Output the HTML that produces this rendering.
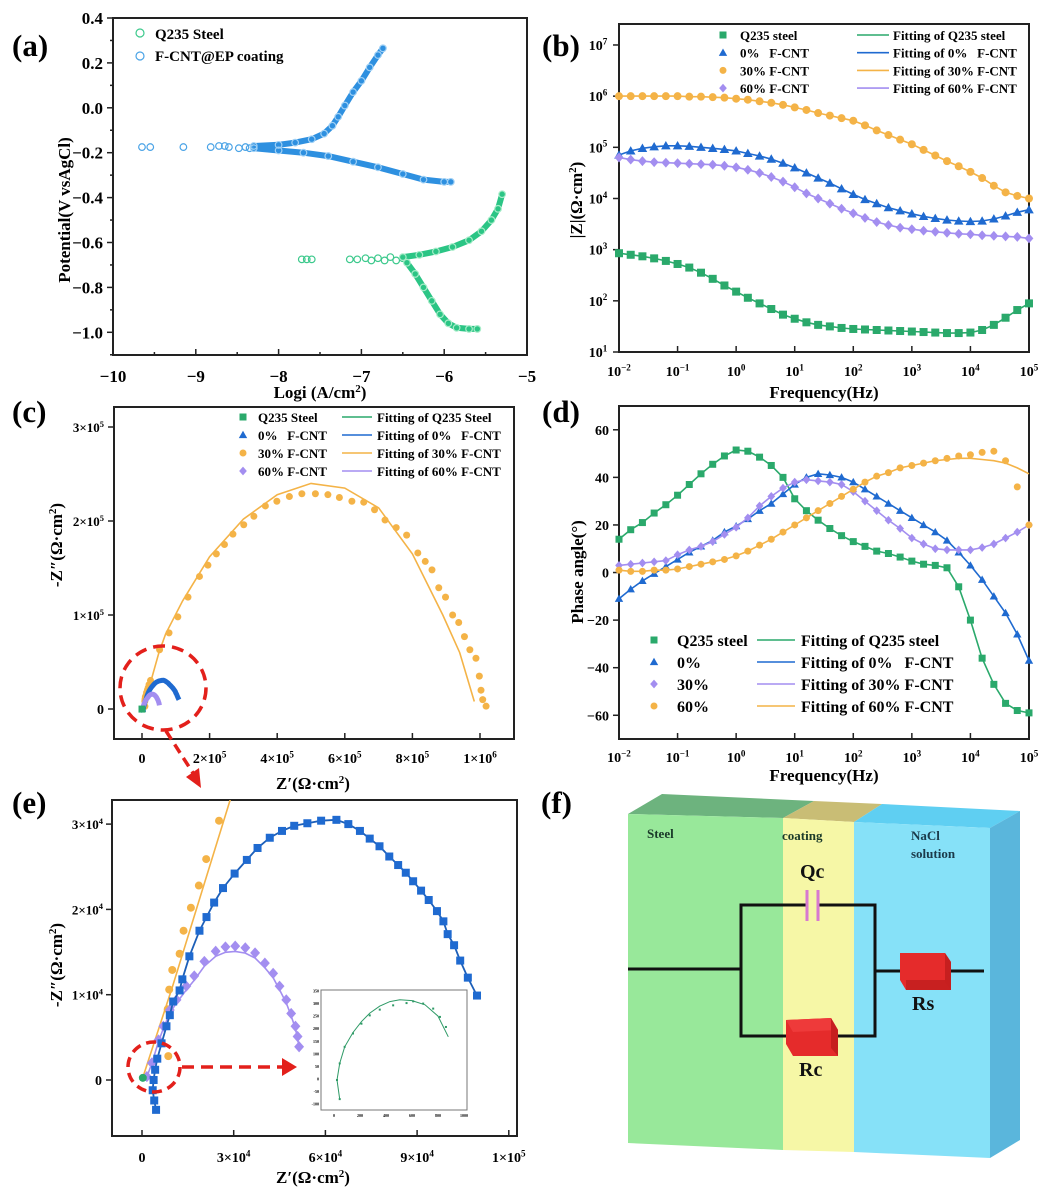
<!DOCTYPE html>
<html><head><meta charset="utf-8"><style>
html,body{margin:0;padding:0;background:#fff;}
svg{display:block;font-family:"Liberation Serif",serif;font-weight:bold;}
</style></head><body>
<svg id="fig" width="1054" height="1198" viewBox="0 0 1054 1198" xmlns="http://www.w3.org/2000/svg">
<defs>
<clipPath id="clipE"><rect x="112" y="800" width="405" height="336"/></clipPath>
<clipPath id="clipC"><rect x="114" y="407" width="400" height="332"/></clipPath>
</defs>
<text x="12" y="56" font-size="31">(a)</text>
<text x="542" y="56" font-size="31">(b)</text>
<text x="12" y="422" font-size="31">(c)</text>
<text x="542" y="422" font-size="31">(d)</text>
<text x="12" y="813" font-size="31">(e)</text>
<text x="541" y="813" font-size="31">(f)</text>

<g>
<polygon points="628,814 662,794 814,801 783,818" fill="#6db37e"/>
<polygon points="783,818 814,801 882,804 854,822" fill="#c9bd75"/>
<polygon points="854,822 882,804 1020,811 990,828" fill="#5fcff2"/>
<polygon points="628,814 783,818 783,1150 628,1143" fill="#98e89a"/>
<polygon points="783,818 854,822 854,1152 783,1150" fill="#f6f7a6"/>
<polygon points="854,822 990,828 990,1158 854,1152" fill="#86e1f8"/>
<polygon points="990,828 1020,811 1020,1140 990,1158" fill="#5ab6dc"/>
<text x="647" y="838" font-size="13" fill="#1b3a2a">Steel</text>
<text x="782" y="840" font-size="13" fill="#1b3a2a">coating</text>
<text x="911" y="840" font-size="13" fill="#1b3a4a">NaCl</text>
<text x="911" y="858" font-size="13" fill="#1b3a4a">solution</text>
<g stroke="#111" stroke-width="3" fill="none">
<polyline points="628,969 741,969"/>
<polyline points="807,905 741,905 741,1036 790,1036"/>
<polyline points="819,905 875,905 875,1036 836,1036"/>
<polyline points="875,971 984,971"/>
</g>
<line x1="807" y1="890" x2="807" y2="921" stroke="#d77ad0" stroke-width="3"/>
<line x1="818" y1="890" x2="818" y2="921" stroke="#d77ad0" stroke-width="3"/>
<text x="800" y="878" font-size="20" fill="#111">Qc</text>
<g>
<polygon points="786,1020 831,1018 838,1030 838,1056 793,1056 786,1044" fill="#e52b2b"/>
<polygon points="786,1020 831,1018 838,1030 793,1032" fill="#ee3a3a"/>
<polygon points="831,1018 838,1030 838,1056 831,1048" fill="#c61f1f"/>
</g>
<text x="799" y="1076" font-size="20" fill="#111">Rc</text>
<g>
<polygon points="900,953 945,953 951,962 951,990 906,990 900,980" fill="#e52b2b"/>
<polygon points="906,980 951,980 951,990 906,990" fill="#c82020"/>
<polygon points="945,953 951,962 951,990 945,982" fill="#c61f1f"/>
</g>
<text x="912" y="1010" font-size="20" fill="#111">Rs</text>
</g>

<g id="plots"></g>
</svg>
<script>
const coatSparse=[[-9.65,-0.175],[-9.55,-0.175],[-9.15,-0.175],[-8.82,-0.175],[-8.72,-0.17],[-8.65,-0.17],[-8.6,-0.175],[-8.48,-0.18],[-8.4,-0.175],[-8.35,-0.18]];
const coatAnodic=[[-8.3,-0.17],[-8.0,-0.165],[-7.8,-0.155],[-7.6,-0.14],[-7.45,-0.115],[-7.35,-0.08],[-7.28,-0.04],[-7.2,0.01],[-7.1,0.07],[-7.0,0.12],[-6.9,0.18],[-6.8,0.235],[-6.74,0.265]];
const coatCathodic=[[-8.3,-0.18],[-8.0,-0.19],[-7.7,-0.2],[-7.4,-0.215],[-7.1,-0.24],[-6.8,-0.265],[-6.5,-0.295],[-6.25,-0.32],[-6.0,-0.33],[-5.92,-0.33]];
const steelSparse=[[-7.72,-0.675],[-7.66,-0.675],[-7.6,-0.675],[-7.14,-0.675],[-7.05,-0.675],[-6.95,-0.67],[-6.88,-0.68],[-6.8,-0.67],[-6.72,-0.68],[-6.65,-0.665],[-6.58,-0.68],[-6.5,-0.67]];
const steelAnodic=[[-6.5,-0.665],[-6.3,-0.655],[-6.1,-0.64],[-5.9,-0.62],[-5.7,-0.59],[-5.55,-0.55],[-5.43,-0.5],[-5.35,-0.45],[-5.3,-0.385]];
const steelCathodic=[[-6.45,-0.69],[-6.35,-0.74],[-6.25,-0.8],[-6.15,-0.86],[-6.05,-0.92],[-5.95,-0.96],[-5.85,-0.98],[-5.7,-0.985],[-5.6,-0.985]];
const aXTicks=[-10,-9,-8,-7,-6,-5];
const aYTicks=[0.4,0.2,0.0,-0.2,-0.4,-0.6,-0.8,-1.0];
const aYTickLabels=["0.4","0.2","0.0","\u22120.2","\u22120.4","\u22120.6","\u22120.8","\u22121.0"];
const logF=[-2,-1.8,-1.6,-1.4,-1.2,-1,-0.8,-0.6,-0.4,-0.2,0,0.2,0.4,0.6,0.8,1,1.2,1.4,1.6,1.8,2,2.2,2.4,2.6,2.8,3,3.2,3.4,3.6,3.8,4,4.2,4.4,4.6,4.8,5];
const zSteel=[2.93,2.9,2.87,2.83,2.78,2.72,2.65,2.55,2.43,2.3,2.18,2.06,1.95,1.84,1.73,1.65,1.58,1.53,1.5,1.47,1.45,1.44,1.43,1.42,1.41,1.4,1.39,1.38,1.37,1.37,1.38,1.43,1.53,1.67,1.82,1.95];
const z0=[4.85,4.93,4.98,5.01,5.03,5.03,5.02,5.0,4.98,4.96,4.93,4.88,4.83,4.77,4.69,4.6,4.5,4.4,4.3,4.19,4.08,3.98,3.9,3.82,3.76,3.7,3.65,3.61,3.58,3.56,3.55,3.56,3.6,3.66,3.73,3.78];
const z30=[6.0,6.0,6.0,6.0,6.0,6.0,5.99,5.99,5.98,5.97,5.95,5.93,5.9,5.87,5.83,5.78,5.73,5.67,5.62,5.57,5.52,5.43,5.33,5.24,5.15,5.06,4.95,4.84,4.73,4.63,4.52,4.4,4.25,4.12,4.05,4.0];
const z60=[4.8,4.76,4.73,4.71,4.7,4.69,4.68,4.67,4.66,4.64,4.61,4.56,4.5,4.42,4.33,4.22,4.1,4.0,3.9,3.8,3.71,3.62,3.54,3.48,3.43,3.4,3.37,3.35,3.33,3.31,3.3,3.28,3.27,3.26,3.25,3.22];
const pSteel=[14,18,21,25,28.5,32.5,37,41.5,45.5,49,51.5,51,48.5,45,40,31,26,22,18.5,15.5,13,11,9,8,6.5,4.8,3.5,3,2,-6,-20,-36,-47,-55,-58,-59];
const p0=[-11,-7,-3.5,-0.5,2.5,5.5,8.5,11,13.5,17,19.5,22.5,26,29,33,37,40,41.5,41,40,38,35,32,29,26,23,20,17,13.5,8.5,3,-3,-10,-17,-26,-37];
const p30=[3,3.5,4,4.5,5,7.5,9.5,11,13,16,19,23,28,32,35.5,38,39,38.5,38,37,34,30,26,22,18.5,14.5,12,10,9.5,9.5,9.5,10.5,12,14.5,17,20];
const p60=[1,0.5,0.5,1,1,1.5,2.5,3.5,4.5,5.5,7,9,11.5,14,17,20,23,26,29,32,35,38,40.5,42,44,45,46,47,48,49,49.5,50.5,51,47,36,20];
const p60fit=[1,0.5,0.5,1,1,1.5,2.5,3.5,4.5,5.5,7,9,11.5,14,17,20,23,26,29,32,35,38,40.5,42,44,45,46,47,47.5,48,48,47.5,47,46,44,41.5];
const decadeTicks=[-2,-1,0,1,2,3,4,5];
const bYTicks=[1,2,3,4,5,6,7];
const dYTicks=[60,40,20,0,-20,-40,-60];
const dYTickLabels=["60","40","20","0","\u221220","\u221240","\u221260"];
const nyq30Re=[8600,8400,8900,9900,12300,13600,16000,18600,21000,25200,52000,80000,106000,136000,170000,195000,220000,244000,269000,301000,331000,365000,399000,436000,473000,513000,550000,584000,621000,656000,688000,719000,752000,783000,816000,838000,858000,878000,898000,919000,937000,954000,970000,988000,998000,1003000,1008000,1018000];
const nyq30Im=[2800,8300,10600,12900,14800,17500,20200,22800,25900,30400,63000,81000,98000,119000,141000,153000,165000,175000,186000,196000,205000,216000,221000,226000,229000,229000,228000,225000,221000,220000,212000,201000,193000,185000,166000,157000,148000,129000,119000,100000,92000,77000,63000,54000,35000,20000,10000,3000];
const fit30Re=[0,10000,29000,50000,70000,120000,200000,300000,400000,500000,600000,700000,800000,890000,940000,983000];
const fit30Im=[0,11000,33000,60000,80000,115000,162000,202000,228000,240000,235000,214000,165000,100000,60000,8000];
const nyq0Re=[4600,4000,3500,3800,4300,5000,6400,8000,9100,10200,12300,13200,15500,18800,21100,23600,26500,30300,34300,37800,41800,45800,49800,54100,58600,63600,67500,71300,74500,77700,80900,83800,86300,88700,91300,93800,96500,98600,100000,102100,104100,106600,109600];
const nyq0Im=[-3500,-2400,-1200,0,1200,2500,4300,6300,7600,9200,10500,11800,14500,17500,19100,20800,22500,24200,25800,27200,28400,29200,29800,30100,30400,30500,30000,29200,28300,27400,26200,25200,24300,23300,22200,21100,19800,18600,17100,15800,14000,12000,9900];
const nyq60Re=[1600,3200,5400,7000,9100,11300,14500,17100,20400,24100,27300,30500,33800,37000,40200,42900,45000,47200,48800,50200,50900,51400];
const nyq60Im=[400,2000,4700,6300,8200,9400,11000,12200,13900,15100,15600,15700,15500,14900,13700,12500,11000,9400,7800,6300,5100,3900];
const steelRe=[44,23,44,82,146,211,275,352,455,558,609,686,763,815,861];
const steelIm=[-80,-4,62,128,181,220,253,276,293,302,309,300,280,247,207];
const steelFitRe=[44,23,44,82,146,211,275,352,430,506,600,700,800,879];
const steelFitIm=[-80,-4,62,128,185,228,262,290,308,315,312,295,250,168];
const cXTicks=[0,200000,400000,600000,800000,1000000];
const cXTickExp=["0","2","4","6","8","1"];
const cYTicks=[0,100000,200000,300000];
const eXTicks=[0,30000,60000,90000,120000];
const eXTickMant=["0","3","6","9","1"];
const eYTicks=[0,10000,20000,30000];
const insetXTicks=[0,200,400,600,800,1000];
const insetYTicks=[-100,-50,0,50,100,150,200,250,300,350];

const NS="http://www.w3.org/2000/svg";
const root=document.getElementById('plots');
function mk(tag,attrs,parent){const e=document.createElementNS(NS,tag);for(const k in attrs)e.setAttribute(k,attrs[k]);(parent||root).appendChild(e);return e;}
function marker(shape,x,y,s,fill,parent){
  let e;
  if(shape==='square')e=mk('rect',{x:x-s/2,y:y-s/2,width:s,height:s,fill:fill},parent);
  else if(shape==='tri')e=mk('polygon',{points:`${x},${y-s*0.6} ${x-s*0.6},${y+s*0.45} ${x+s*0.6},${y+s*0.45}`,fill:fill},parent);
  else if(shape==='dia')e=mk('polygon',{points:`${x},${y-s*0.62} ${x+s*0.55},${y} ${x},${y+s*0.62} ${x-s*0.55},${y}`,fill:fill},parent);
  else e=mk('circle',{cx:x,cy:y,r:s/2,fill:fill},parent);
  return e;
}
function pathD(xs,ys,X,Y){return xs.map((v,i)=>(i?'L':'M')+X(v).toFixed(1)+','+Y(ys[i]).toFixed(1)).join(' ');}
function txt(x,y,s,size,anchor,parent){const t=mk('text',{x:x,y:y,'font-size':size,'text-anchor':anchor||'start'},parent);t.textContent=s;return t;}
function supTxt(x,y,base,sup,size,anchor,parent){
  const t=mk('text',{x:x,y:y,'font-size':size,'text-anchor':anchor||'middle'},parent);
  const a=mk('tspan',{},t);a.textContent=base;
  const b=mk('tspan',{dy:-size*0.4,'font-size':size*0.65},t);b.textContent=sup;
  return t;
}
function box(x1,y1,x2,y2,name){const r=mk('rect',{x:x1,y:y1,width:x2-x1,height:y2-y1,fill:'none',stroke:'#222','stroke-width':2});

return r;}
function tick(x1,y1,x2,y2){const l=mk('line',{x1:x1,y1:y1,x2:x2,y2:y2,stroke:'#222','stroke-width':1.5});

}

const GREEN='#2aa96b',BLUE='#1f6ad0',ORANGE='#f4b347',PURPLE='#a38ef0';

(function(){
  const X=v=>113+(v+10)*82.8, Y=v=>18+(0.4-v)*224.5;
  const g=mk('g',{});
  
  
  box(113,18,527,355,'tafel-plot-frame');
  aXTicks.forEach(v=>{tick(X(v),355,X(v),349);const t=txt(X(v),382,String(v).replace('-','\u2212'),17,'middle');
  
  });
  for(let v=-9.5;v<-5;v+=1)tick(X(v),355,X(v),352);
  aYTicks.forEach((v,i)=>{tick(113,Y(v),107,Y(v));const t=txt(103,Y(v)+6,aYTickLabels[i],17,'end');
  
  });
  for(let v=0.3;v>-1.1;v-=0.2)tick(113,Y(v),110,Y(v));
  const xt=mk('text',{x:320,y:398,'font-size':17,'text-anchor':'middle'});
  
  
  xt.innerHTML='Logi (A/cm<tspan dy="-6" font-size="11">2</tspan><tspan dy="6">)</tspan>';
  const yt=txt(0,0,'Potential(V vsAgCl)',17,'middle');
  yt.setAttribute('transform','translate(70,210) rotate(-90)');
  
  
  const series=[[coatAnodic,'#2e90e0','coating-anodic'],[coatCathodic,'#2e90e0','coating-cathodic'],[steelAnodic,'#2bc585','steel-anodic'],[steelCathodic,'#2bc585','steel-cathodic']];
  series.forEach(s=>{
    const p=mk('path',{d:pathD(s[0].map(d=>d[0]),s[0].map(d=>d[1]),X,Y),fill:'none',stroke:s[1],'stroke-width':6,'stroke-linejoin':'round','stroke-linecap':'round'},g);
    
    
  });
  [[coatSparse,'#4aa3e6'],[coatAnodic,'#9fd0f5'],[coatCathodic,'#9fd0f5'],[steelSparse,'#3cc98c'],[steelAnodic,'#a6ecc8'],[steelCathodic,'#a6ecc8']].forEach(s=>{
    s[0].forEach(d=>{const c=mk('circle',{cx:X(d[0]),cy:Y(d[1]),r:3.3,fill:'none',stroke:s[1],'stroke-width':1.2},g);
    
    });
  });
  const l1=mk('circle',{cx:140,cy:33,r:4,fill:'none',stroke:'#3cc98c','stroke-width':1.2});
  
  
  const l2=mk('circle',{cx:140,cy:56,r:4,fill:'none',stroke:'#4aa3e6','stroke-width':1.2});
  
  
  const t1=txt(155,39,'Q235 Steel',15);
  
  
  const t2=txt(155,61,'F-CNT@EP coating',15);
  
  
})();

(function(){
  const X=l=>619+(l+2)*58.57, Y=l=>352-(l-1)*51.17;
  box(619,24,1029,352,'bode-modulus-frame');
  decadeTicks.forEach(l=>{tick(X(l),352,X(l),346);const t=supTxt(X(l),376,'10',String(l).replace('-','\u2212'),14,'middle');
  
  });
  bYTicks.forEach(l=>{tick(619,Y(l),613,Y(l));const t=supTxt(598,Y(l)+5,'10',String(l),14,'middle');
  
  });
  const xt=txt(824,398,'Frequency(Hz)',17,'middle');
  
  
  const yt=mk('text',{'font-size':17,'text-anchor':'middle',transform:'translate(582,200) rotate(-90)'});
  yt.innerHTML='|Z|(\u03A9\u00B7cm<tspan dy="-6" font-size="11">2</tspan><tspan dy="6">)</tspan>';
  
  
  const S=[[zSteel,GREEN,'square','Q235 steel','Fitting of Q235 steel'],[z0,BLUE,'tri','0%   F-CNT','Fitting of 0%   F-CNT'],[z30,ORANGE,'circ','30% F-CNT','Fitting of 30% F-CNT'],[z60,PURPLE,'dia','60% F-CNT','Fitting of 60% F-CNT']];
  S.forEach((s,k)=>{
    const p=mk('path',{d:pathD(logF,s[0],X,Y),fill:'none',stroke:s[1],'stroke-width':1.6});
    
    
    s[0].forEach((v,i)=>{const m=marker(s[2],X(logF[i]),Y(v),8,s[1]);
    
    });
    const ly=35+k*17.7;
    const lm=marker(s[2],723,ly,7,s[1]);
    
    
    const lt=txt(740,ly+5,s[3],13);
    lt.style.whiteSpace='pre';
    
    
    const ll=mk('line',{x1:857,y1:ly,x2:889,y2:ly,stroke:s[1],'stroke-width':1.6});
    
    
    const lf=txt(893,ly+5,s[4],13);lf.style.whiteSpace='pre';
    
    
  });
})();

(function(){
  const X=l=>619+(l+2)*58.57, Y=p=>406+(70-p)*2.379;
  box(619,406,1029,739,'bode-phase-frame');
  decadeTicks.forEach(l=>{tick(X(l),739,X(l),733);const t=supTxt(X(l),762,'10',String(l).replace('-','\u2212'),14,'middle');
  
  });
  dYTicks.forEach((v,i)=>{tick(619,Y(v),613,Y(v));const t=txt(609,Y(v)+5,dYTickLabels[i],14,'end');
  
  });
  const xt=txt(824,781,'Frequency(Hz)',17,'middle');
  
  
  const yt=txt(0,0,'Phase angle(\u00B0)',17,'middle');
  yt.setAttribute('transform','translate(583,572) rotate(-90)');
  
  
  const S=[[pSteel,pSteel,GREEN,'square','Q235 steel','Fitting of Q235 steel'],[p0,p0,BLUE,'tri','0%','Fitting of 0%   F-CNT'],[p30,p30,PURPLE,'dia','30%','Fitting of 30% F-CNT'],[p60,p60fit,ORANGE,'circ','60%','Fitting of 60% F-CNT']];
  S.forEach((s,k)=>{
    const p=mk('path',{d:pathD(logF,s[1],X,Y),fill:'none',stroke:s[2],'stroke-width':1.6});
    
    
    s[0].forEach((v,i)=>{const m=marker(s[3],X(logF[i]),Y(v),7,s[2]);
    
    });
    const ly=640+k*22;
    const lm=marker(s[3],654,ly,7,s[2]);
    
    
    const lt=txt(677,ly+6,s[4],16);
    
    
    const ll=mk('line',{x1:757,y1:ly,x2:795,y2:ly,stroke:s[2],'stroke-width':1.6});
    
    
    const lf=txt(801,ly+6,s[5],16);lf.style.whiteSpace='pre';
    
    
  });
})();

(function(){
  const X=v=>142+v*3.38e-4, Y=v=>709-v*9.4e-4;
  box(114,407,514,739,'nyquist-frame');
  cXTicks.forEach((v,i)=>{tick(X(v),739,X(v),733);let t;
    if(v===0)t=txt(X(v),763,'0',14,'middle');
    else t=supTxt(X(v),763,cXTickExp[i]+'\u00D710',v===1000000?'6':'5',14,'middle');
    
    });
  cYTicks.forEach(v=>{tick(114,Y(v),108,Y(v));let t;
    if(v===0)t=txt(104,Y(v)+5,'0',14,'end');
    else t=supTxt(104,Y(v)+5,(v/100000)+'\u00D710','5',13,'end');
    
    });
  const xt=mk('text',{x:313,y:789,'font-size':17,'text-anchor':'middle'});
  xt.innerHTML='Z\u2032(\u03A9\u00B7cm<tspan dy="-6" font-size="11">2</tspan><tspan dy="6">)</tspan>';
  
  
  const yt=mk('text',{'font-size':17,'text-anchor':'middle',transform:'translate(62,545) rotate(-90)'});
  yt.innerHTML='-Z\u2033(\u03A9\u00B7cm<tspan dy="-6" font-size="11">2</tspan><tspan dy="6">)</tspan>';
  
  
  const g=mk('g',{'clip-path':'url(#clipC)'});
  
  
  const f=mk('path',{d:pathD(fit30Re,fit30Im,X,Y),fill:'none',stroke:ORANGE,'stroke-width':1.6},g);
  
  
  nyq30Re.forEach((v,i)=>{const m=marker('circ',X(v),Y(nyq30Im[i]),7,ORANGE,g);
  
  });
  const b=mk('path',{d:pathD(nyq0Re,nyq0Im,X,Y),fill:'none',stroke:BLUE,'stroke-width':5},g);
  
  
  const pu=mk('path',{d:pathD(nyq60Re,nyq60Im,X,Y),fill:'none',stroke:PURPLE,'stroke-width':5},g);
  
  
  const st=marker('square',X(steelRe[0]),Y(steelIm[0]),7,GREEN,g);
  
  
  const S=[[GREEN,'square','Q235 Steel','Fitting of Q235 Steel'],[BLUE,'tri','0%   F-CNT','Fitting of 0%   F-CNT'],[ORANGE,'circ','30% F-CNT','Fitting of 30% F-CNT'],[PURPLE,'dia','60% F-CNT','Fitting of 60% F-CNT']];
  S.forEach((s,k)=>{const ly=417+k*18;
    const lm=marker(s[1],243,ly,7,s[0]);
    
    
    const lt=txt(258,ly+5,s[2],13);lt.style.whiteSpace='pre';
    
    
    const ll=mk('line',{x1:342,y1:ly,x2:372,y2:ly,stroke:s[0],'stroke-width':1.6});
    
    
    const lf=txt(377,ly+5,s[3],13);lf.style.whiteSpace='pre';
    
    
  });
  const e=mk('ellipse',{cx:163,cy:688,rx:43,ry:42,fill:'none',stroke:'#e3201b','stroke-width':3.5,'stroke-dasharray':'12,7'});
  
  
  const a=mk('line',{x1:166,y1:731,x2:193,y2:773,stroke:'#e3201b','stroke-width':3.5,'stroke-dasharray':'10,6'});
  
  
  const ah=mk('polygon',{points:'201,788 186,777 199,768',fill:'#e3201b'});
  
  
})();

(function(){
  const X=v=>142+v*(91.7/30000), Y=v=>1080-v*(85.3/10000);
  box(112,800,517,1136,'nyquist-zoom-frame');
  eXTicks.forEach((v,i)=>{tick(X(v),1136,X(v),1130);let t;
    if(v===0)t=txt(X(v),1162,'0',14,'middle');
    else t=supTxt(X(v),1162,eXTickMant[i]+'\u00D710',v===120000?'5':'4',14,'middle');
    
    });
  eYTicks.forEach(v=>{tick(112,Y(v),106,Y(v));let t;
    if(v===0)t=txt(102,Y(v)+5,'0',14,'end');
    else t=supTxt(103,Y(v)+5,(v/10000)+'\u00D710','4',13,'end');
    
    });
  const xt=mk('text',{x:313,y:1183,'font-size':17,'text-anchor':'middle'});
  xt.innerHTML='Z\u2032(\u03A9\u00B7cm<tspan dy="-6" font-size="11">2</tspan><tspan dy="6">)</tspan>';
  
  
  const yt=mk('text',{'font-size':17,'text-anchor':'middle',transform:'translate(62,965) rotate(-90)'});
  yt.innerHTML='-Z\u2033(\u03A9\u00B7cm<tspan dy="-6" font-size="11">2</tspan><tspan dy="6">)</tspan>';
  
  
  const g=mk('g',{'clip-path':'url(#clipE)'});
  
  
  const f=mk('path',{d:pathD(fit30Re,fit30Im,X,Y),fill:'none',stroke:ORANGE,'stroke-width':1.6},g);
  
  
  nyq30Re.forEach((v,i)=>{const m=marker('circ',X(v),Y(nyq30Im[i]),8,ORANGE,g);
  
  });
  const pf=mk('path',{d:pathD(nyq60Re,nyq60Im.map(v=>v*0.96),X,Y),fill:'none',stroke:PURPLE,'stroke-width':1.6},g);
  
  
  nyq60Re.forEach((v,i)=>{const m=marker('dia',X(v),Y(nyq60Im[i]),9,PURPLE,g);
  
  });
  const bf=mk('path',{d:pathD(nyq0Re,nyq0Im,X,Y),fill:'none',stroke:'#1d5fb8','stroke-width':1.8},g);
  
  
  nyq0Re.forEach((v,i)=>{const m=marker('square',X(v),Y(nyq0Im[i]),8,BLUE,g);
  
  });
  const st=marker('circ',X(steelRe[6]),Y(steelIm[6]),8,GREEN,g);
  
  
  const e=mk('ellipse',{cx:154,cy:1067,rx:26,ry:25,fill:'none',stroke:'#e3201b','stroke-width':3.5,'stroke-dasharray':'10,6'});
  
  
  const a=mk('line',{x1:182,y1:1067,x2:283,y2:1067,stroke:'#e3201b','stroke-width':3.5,'stroke-dasharray':'12,7'});
  
  
  const ah=mk('polygon',{points:'297,1067 282,1058 282,1076',fill:'#e3201b'});
  
  
  const Xi=v=>334+v*0.13, Yi=v=>1079-v*0.2514;
  const ib=mk('rect',{x:321,y:990,width:146,height:120,fill:'#fff',stroke:'#777','stroke-width':1});
  
  
  insetXTicks.forEach(v=>{const t=txt(Xi(v),1117,String(v),4,'middle');
  
  });
  insetYTicks.forEach(v=>{const t=txt(319,Yi(v)+1.5,String(v),4,'end');
  
  });
  const il=mk('path',{d:pathD(steelFitRe,steelFitIm,Xi,Yi),fill:'none',stroke:'#2e9a66','stroke-width':1});
  
  
  steelRe.forEach((v,i)=>{const m=marker('square',Xi(v),Yi(steelIm[i]),2,'#2e9a66');
  
  });
})();
</script>
</body></html>
